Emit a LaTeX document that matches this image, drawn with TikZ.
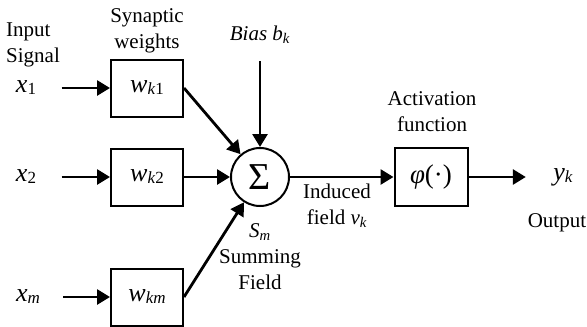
\documentclass[tikz,border=0pt]{standalone}
\usepackage{fontspec}
\setmainfont{Liberation Serif}
\usetikzlibrary{arrows.meta}

% subscript helpers
\newcommand{\lowsub}[1]{\textsubscript{#1}}
\newcommand{\bigvar}[2]{{\fontsize{26}{26}\selectfont\itshape #1}%
    \raisebox{-2pt}{\fontsize{17}{17}\selectfont #2}}

\begin{document}
\begin{tikzpicture}[x=1pt, y=-1pt,
    font=\fontsize{21}{26}\selectfont,
    wbox/.style={draw, line width=2pt, minimum width=72pt,
                 minimum height=57pt, inner sep=0pt},
    sumnode/.style={draw, circle, line width=2pt, minimum size=58pt,
                    inner sep=0pt},
    sig/.style={line width=2.8pt, -{Triangle[length=13pt,width=15pt]}},
    lbl/.style={align=center, inner sep=0pt}
]
\useasboundingbox (0,0) rectangle (587,327);

% Weight boxes
\node[wbox] (w1) at (147,88)  {\bigvar{w}{\textit{k}1}};
\node[wbox] (w2) at (147,177) {\bigvar{w}{\textit{k}2}};
\node[wbox] (wm) at (147,297) {\bigvar{w}{\textit{km}}};

% Summing junction and activation
\node[sumnode] (sum) at (260,177) {\fontsize{38}{38}\selectfont Σ};
\node[wbox, minimum width=73pt, minimum height=58pt] (phi) at (431,177)
    {\fontsize{27}{27}\selectfont\textit{φ}(·)};

% Inputs
\node (x1) at (26,88)  {\bigvar{x}{1}};
\node (x2) at (26,177) {\bigvar{x}{2}};
\node (xm) at (28,297) {\bigvar{x}{\textit{m}}};

% Labels
\node[lbl, align=left, anchor=west] (insig) at (6,45) {Input\\Signal};
\node[lbl] (synw) at (147,31) {Synaptic\\weights};
\node[lbl] (bias) at (260,35) {\textit{Bias b}\lowsub{\textit{k}}};
\node[lbl] (actf) at (432,112) {Activation\\function};
\node[lbl] (ind) at (337,206) {Induced\\field \textit{v}\lowsub{\textit{k}}};
\node[lbl] (summ) at (260,257) {\textit{S}\lowsub{\textit{m}}\\Summing\\Field};
\node (yk) at (563,177) {\bigvar{y}{\textit{k}}};
\node[lbl] (outl) at (557,223) {Output};

% Connectors
\draw[sig, shorten <=22pt] (x1) -- (w1);
\draw[sig, shorten <=22pt] (x2) -- (w2);
\draw[sig, shorten <=20pt] (xm) -- (wm);
\draw[sig] (w1.east) -- (sum);
\draw[sig] (w2) -- (sum);
\draw[sig] (wm.east) -- (sum);
\draw[sig, shorten <=17pt] (bias) -- (sum);
\draw[sig] (sum) -- (phi);
\draw[sig, shorten >=24pt] (phi) -- (yk);

\end{tikzpicture}
\end{document}
